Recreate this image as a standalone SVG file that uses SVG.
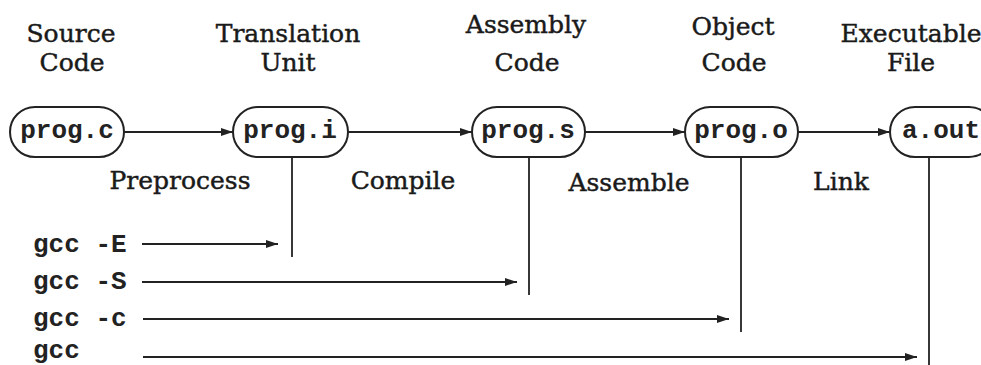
<svg xmlns="http://www.w3.org/2000/svg" width="981" height="365" viewBox="0 0 981 365">
<style>
.lbl{font-family:"DejaVu Serif","Liberation Serif",serif;font-size:25px;fill:#1a1a1a;stroke:#1a1a1a;stroke-width:0.45;text-anchor:middle}
.mono{font-family:"Liberation Mono","Courier New",monospace;font-size:26px;fill:#222;font-weight:bold}
.node rect{fill:#fff;stroke:#222;stroke-width:2}
.node text{text-anchor:middle}
.ln{stroke:#222;stroke-width:1.8;fill:none}
</style>
<defs>
<marker id="ah" viewBox="0 0 12 8" refX="12" refY="4" markerWidth="12" markerHeight="8" markerUnits="userSpaceOnUse" orient="auto">
<path d="M0,0 L12,4 L0,8 Z" fill="#222"/>
</marker>
</defs>
<rect width="981" height="365" fill="#fff"/>
<g id="labels">
<text class="lbl" x="71" y="42">Source</text>
<text class="lbl" x="72" y="71">Code</text>
<text class="lbl" x="288" y="42">Translation</text>
<text class="lbl" x="288" y="71">Unit</text>
<text class="lbl" x="526" y="33">Assembly</text>
<text class="lbl" x="527" y="71">Code</text>
<text class="lbl" x="733" y="35">Object</text>
<text class="lbl" x="734" y="71">Code</text>
<text class="lbl" x="911" y="42">Executable</text>
<text class="lbl" x="911" y="71">File</text>
<text class="lbl" x="180" y="189">Preprocess</text>
<text class="lbl" x="403" y="189">Compile</text>
<text class="lbl" x="629" y="191">Assemble</text>
<text class="lbl" x="841" y="190">Link</text>
<text class="mono" x="33" y="252">gcc -E</text>
<text class="mono" x="33" y="289">gcc -S</text>
<text class="mono" x="33" y="326">gcc -c</text>
<text class="mono" x="33" y="358">gcc</text>
</g>
<g id="connectors">
<line class="ln" x1="124" y1="132" x2="233" y2="132" marker-end="url(#ah)"/>
<line class="ln" x1="348" y1="132" x2="472" y2="132" marker-end="url(#ah)"/>
<line class="ln" x1="585" y1="132" x2="685" y2="132" marker-end="url(#ah)"/>
<line class="ln" x1="798" y1="132" x2="890" y2="132" marker-end="url(#ah)"/>
<line class="ln" x1="292" y1="157" x2="292" y2="257"/>
<line class="ln" x1="529" y1="157" x2="529" y2="295"/>
<line class="ln" x1="741" y1="157" x2="741" y2="332"/>
<line class="ln" x1="929" y1="157" x2="929" y2="365"/>
<line class="ln" x1="142" y1="244" x2="278" y2="244" marker-end="url(#ah)"/>
<line class="ln" x1="142" y1="282" x2="517" y2="282" marker-end="url(#ah)"/>
<line class="ln" x1="143" y1="319" x2="729" y2="319" marker-end="url(#ah)"/>
<line class="ln" x1="143" y1="357" x2="917" y2="357" marker-end="url(#ah)"/>
</g>
<g id="n-progc" class="node"><rect x="10" y="107" width="114" height="50" rx="25"/><text class="mono" x="67" y="138">prog.c</text></g>
<g id="n-progi" class="node"><rect x="233" y="107" width="115" height="50" rx="25"/><text class="mono" x="290" y="138">prog.i</text></g>
<g id="n-progs" class="node"><rect x="472" y="107" width="113" height="50" rx="25"/><text class="mono" x="528" y="138">prog.s</text></g>
<g id="n-progo" class="node"><rect x="685" y="107" width="113" height="50" rx="25"/><text class="mono" x="741" y="138">prog.o</text></g>
<g id="n-aout" class="node"><rect x="890" y="107" width="104" height="50" rx="25"/><text class="mono" x="941" y="138">a.out</text></g>
</svg>
